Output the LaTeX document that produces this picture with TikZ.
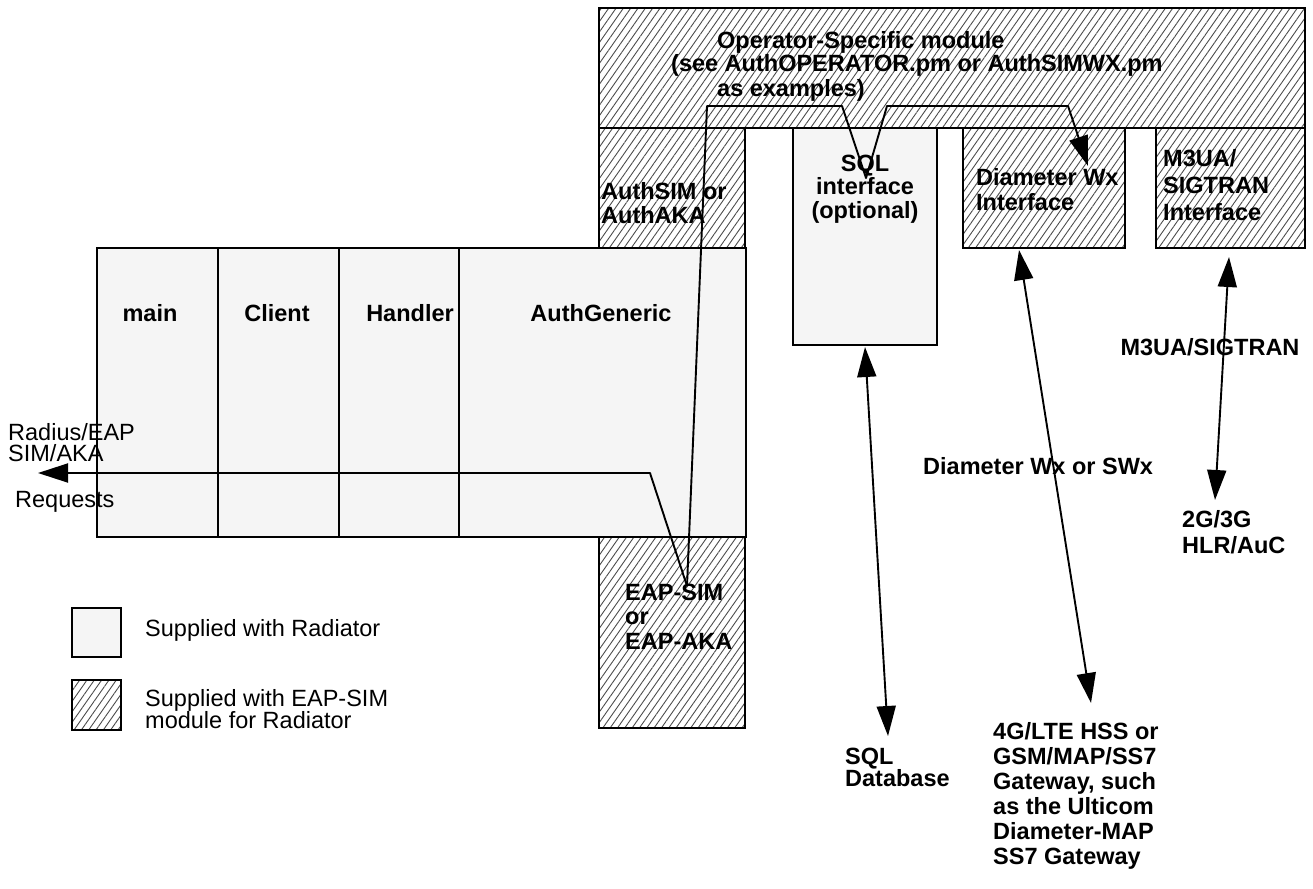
\documentclass[tikz,border=0pt]{standalone}
\usepackage{fontspec}
\setmainfont{Liberation Sans}
\usetikzlibrary{arrows.meta,patterns.meta}
\definecolor{lightfill}{HTML}{F5F5F5}
\tikzset{
  box/.style={draw=black, line width=2.8pt, fill=lightfill, inner sep=0pt, outer sep=0pt, anchor=north west},
  hatchbox/.style={draw=black, line width=2.8pt, pattern={Lines[angle=55,distance=6pt,line width=0.9pt]}, pattern color=black!70, inner sep=0pt, outer sep=0pt, anchor=north west},
  blbl/.style={font=\fontsize{23.5}{23.5}\selectfont\bfseries, inner sep=0pt, align=left, anchor=base west},
  rlbl/.style={font=\fontsize{23.5}{22}\selectfont, inner sep=0pt, align=left, anchor=base west},
  conn/.style={draw=black, line width=1.9pt, line join=round},
}
\begin{document}
\begin{tikzpicture}[x=1pt,y=-1pt]
\useasboundingbox (0,0) rectangle (1313,888);
% boxes
\node[hatchbox, minimum width=706pt, minimum height=120pt] (op) at (599,8) {};
\node[hatchbox, minimum width=146pt, minimum height=120pt] (authsim) at (599,128) {};
\node[box, minimum width=144pt, minimum height=217pt] (sqlif) at (793,128) {};
\node[hatchbox, minimum width=162pt, minimum height=120pt] (diamif) at (963,128) {};
\node[hatchbox, minimum width=149pt, minimum height=120pt] (m3uaif) at (1156,128) {};
\node[box, minimum width=649pt, minimum height=289pt] (mainbox) at (97,248) {};
\node[hatchbox, minimum width=146pt, minimum height=191pt] (eap) at (599,537) {};
\draw[line width=2.8pt] (218,248) -- (218,537) (339,248) -- (339,537) (459,248) -- (459,537);
% legend
\node[box, minimum width=49pt, minimum height=49pt] (leg1) at (72,608) {};
\node[hatchbox, minimum width=49pt, minimum height=50pt] (leg2) at (72,680) {};
\node[rlbl] (leg1t) at (145,636) {Supplied with Radiator};
\node[rlbl] (leg2t) at (145,728) {Supplied with EAP-SIM\\module for Radiator};
% labels
\node[blbl] (opt1) at (717,49) {Operator-Specific module};
\node[blbl] (opt2) at (671,72) {(see AuthOPERATOR.pm or AuthSIMWX.pm};
\node[blbl] (opt3) at (717,97) {as examples)};
\node[blbl] (authsimt) at (601,223) {AuthSIM or\\AuthAKA};
\node[blbl, align=center, anchor=base] (sqlift) at (865,218) {SQL\\interface\\(optional)};
\node[blbl, font=\fontsize{23.5}{25}\selectfont\bfseries] (diamt) at (976,210) {Diameter Wx\\Interface};
\node[blbl, font=\fontsize{23.5}{27}\selectfont\bfseries] (m3uat) at (1163,220) {M3UA/\\SIGTRAN\\Interface};
\node[blbl, anchor=base] (maint) at (150,321) {main};
\node[blbl, anchor=base] (clientt) at (277,321) {Client};
\node[blbl, anchor=base] (handlert) at (410,321) {Handler};
\node[blbl, anchor=base] (authgent) at (601,321) {AuthGeneric};
\node[blbl, font=\fontsize{23.5}{24.5}\selectfont\bfseries] (eapt) at (625,649) {EAP-SIM\\or\\EAP-AKA};
\node[rlbl, font=\fontsize{23.5}{21}\selectfont] (radt) at (8,461) {Radius/EAP\\SIM/AKA};
\node[rlbl] (reqt) at (15,507) {Requests};
\node[blbl, anchor=base] (m3uaproto) at (1210,355) {M3UA/SIGTRAN};
\node[blbl] (diamproto) at (923,474) {Diameter Wx or SWx};
\node[blbl, font=\fontsize{23.5}{26}\selectfont\bfseries] (hlr) at (1182,553) {2G/3G\\HLR/AuC};
\node[blbl, font=\fontsize{23.5}{22}\selectfont\bfseries] (sqldbt) at (845,786) {SQL\\Database};
\node[blbl, font=\fontsize{23.5}{25}\selectfont\bfseries] (hsst) at (993,864) {4G/LTE HSS or\\GSM/MAP/SS7\\Gateway, such\\as the Ulticom\\Diameter-MAP\\SS7 Gateway};
% connector coordinates
\coordinate (reqtip) at (38,473);
\coordinate (c1) at (650,473);
\coordinate (eapv) at (687,586);
\coordinate (c2) at (707,106);
\coordinate (c3) at (842,106);
\coordinate (sqlv) at (866,178);
\coordinate (c4) at (887,106);
\coordinate (c5) at (1068,106);
\coordinate (diamtip) at (1088,166);
\coordinate (sqltop) at (865,347);
\coordinate (sqlbot) at (888,736);
\coordinate (diamtop) at (1019,250);
\coordinate (diambot) at (1091,703);
\coordinate (m3top) at (1229,257);
\coordinate (m3bot) at (1215,500);
% connectors
\draw[conn, -{Triangle[length=30pt,width=19pt]}] (eapv) -- (c1) -- (reqtip);
\draw[conn, -{Triangle[length=30pt,width=19pt]}] (eapv) -- (c2) -- (c3) -- (sqlv) -- (c4) -- (c5) -- (diamtip);
\draw[conn, {Triangle[length=30pt,width=19pt]}-{Triangle[length=30pt,width=19pt]}] (sqltop) -- (sqlbot);
\draw[conn, {Triangle[length=30pt,width=19pt]}-{Triangle[length=30pt,width=19pt]}] (diamtop) -- (diambot);
\draw[conn, {Triangle[length=30pt,width=19pt]}-{Triangle[length=30pt,width=19pt]}] (m3top) -- (m3bot);
\end{tikzpicture}
\end{document}
